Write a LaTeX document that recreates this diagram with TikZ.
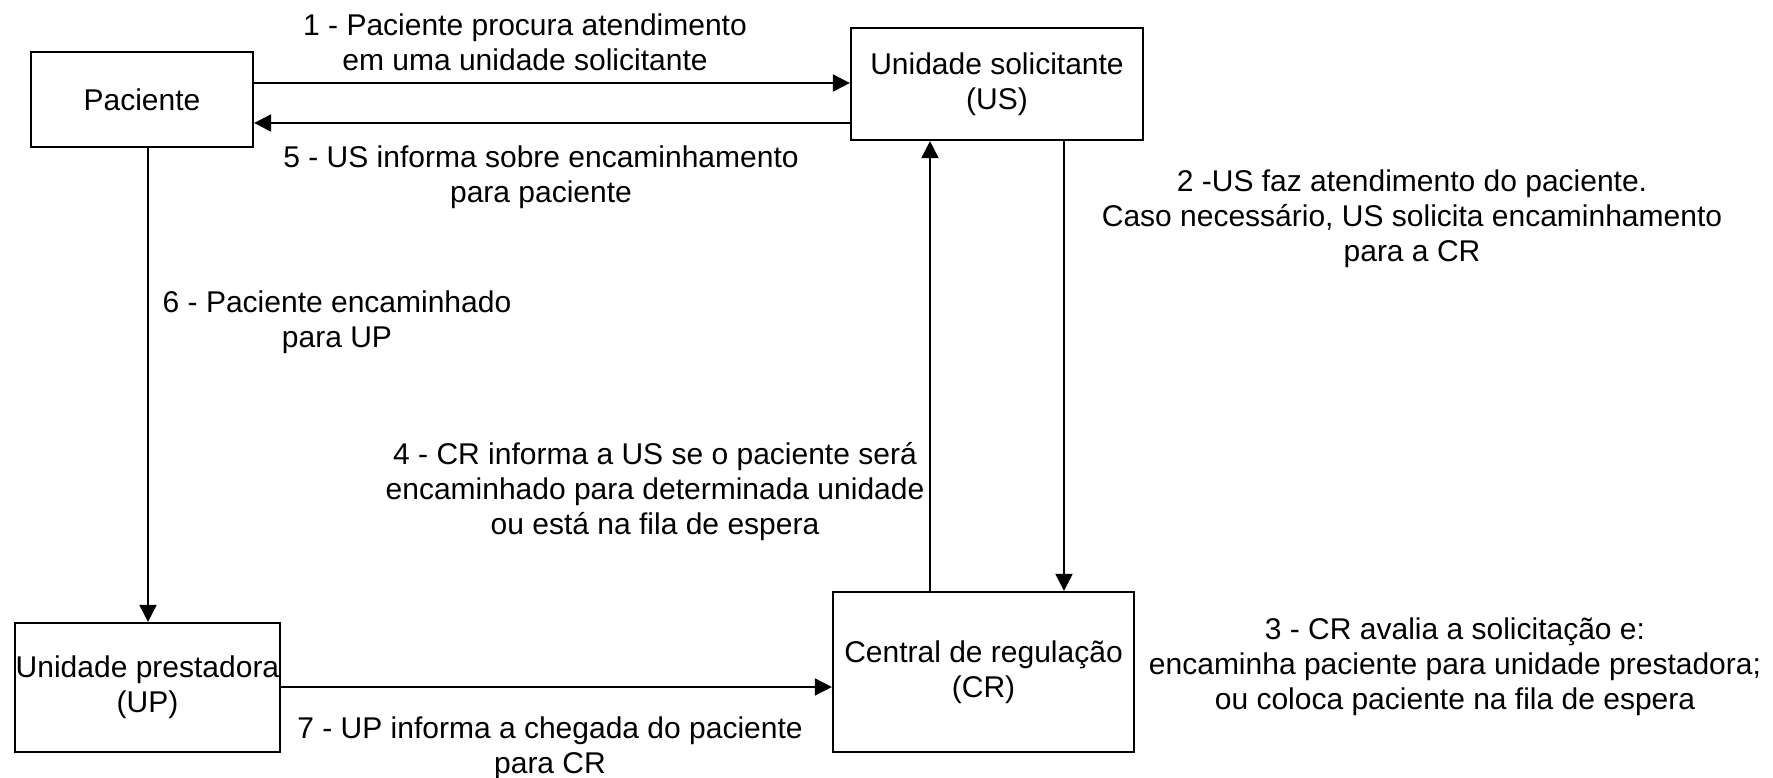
\documentclass[tikz,border=0pt]{standalone}
\usepackage{fontspec}
\setmainfont{Liberation Sans}
\usetikzlibrary{arrows.meta}
\begin{document}
\begin{tikzpicture}[x=1pt,y=-1pt,
  box/.style={draw=black,line width=2.2pt,rectangle,inner sep=0pt,align=center,font=\fontsize{30}{35}\selectfont},
  lbl/.style={align=center,inner sep=0pt,font=\fontsize{30}{35}\selectfont},
  arr/.style={line width=1.8pt,-{Triangle[length=17pt,width=17pt]}},
  ln/.style={line width=1.8pt}]
\useasboundingbox (0,0) rectangle (1773,778);
\fill[white] (0,0) rectangle (1773,778);
% boxes
\node[box,minimum width=222pt,minimum height=95pt] (pac) at (142,99.5) {Paciente};
\node[box,minimum width=292pt,minimum height=112pt] (us) at (997,84) {Unidade solicitante\\(US)};
\node[box,minimum width=265pt,minimum height=129pt] (up) at (147.5,687.5) {Unidade prestadora\\(UP)};
\node[box,minimum width=301pt,minimum height=160pt] (cr) at (983.5,672) {Central de regulação\\(CR)};
% helper coordinates
\coordinate (y1) at (0,83);
\coordinate (y5) at (0,123);
\coordinate (x6) at (148,0);
\coordinate (x2) at (1064,0);
\coordinate (x4) at (930,0);
\coordinate (y7) at (0,687);
% connectors
\draw[arr] (pac.east |- y1) -- (us.west |- y1);
\draw[arr] (us.west |- y5) -- (pac.east |- y5);
\draw[arr] (pac.south -| x6) -- (up.north -| x6);
\draw[arr] (us.south -| x2) -- (cr.north -| x2);
\draw[arr] (cr.north -| x4) -- (us.south -| x4);
\draw[arr] (up.east |- y7) -- (cr.west |- y7);
% labels
\node[lbl] (l1) at (525,42) {1 - Paciente procura atendimento\\em uma unidade solicitante};
\node[lbl] (l5) at (541,177) {5 - US informa sobre encaminhamento\\para paciente};
\node[lbl] (l2) at (1412,219) {2 -US faz atendimento do paciente.\\Caso necessário, US solicita encaminhamento\\para a CR};
\node[lbl] (l6) at (337,322) {6 - Paciente encaminhado\\para UP};
\node[lbl] (l4) at (655,492) {4 - CR informa a US se o paciente será\\encaminhado para determinada unidade\\ou está na fila de espera};
\node[lbl] (l3) at (1455,667) {3 - CR avalia a solicitação e:\\encaminha paciente para unidade prestadora;\\ou coloca paciente na fila de espera};
\node[lbl] (l7) at (550,748) {7 - UP informa a chegada do paciente\\para CR};
\end{tikzpicture}
\end{document}
